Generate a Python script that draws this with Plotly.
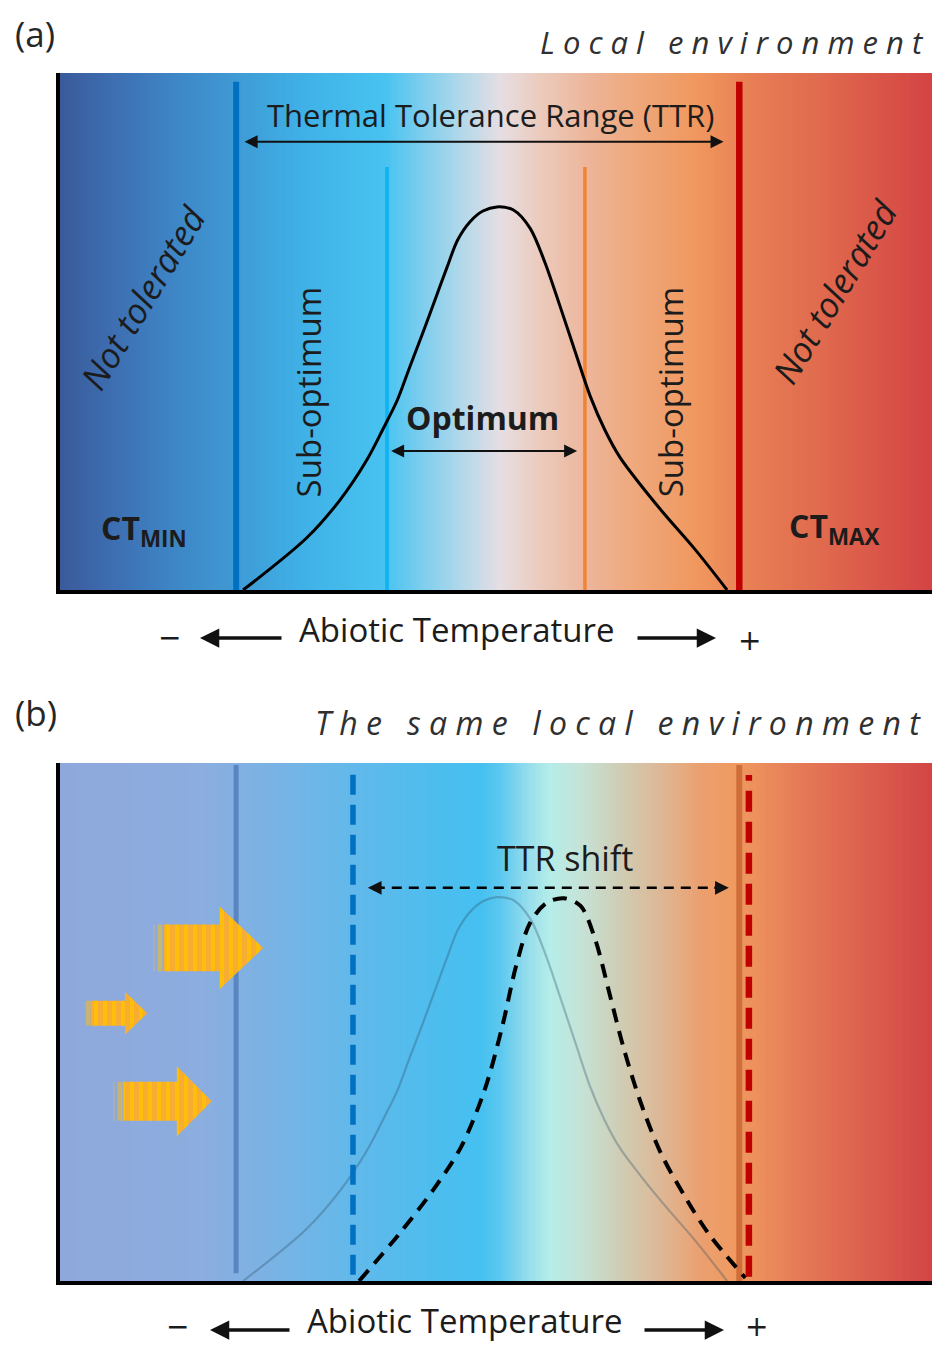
import numpy as np
import plotly.graph_objects as go

W, H = 932, 1345

# ---------------- data (temperature axis 0-100, performance axis 0-100) ----------------
# background gradients: position along temperature axis and colour
grad_a_pos = [0, 6.9, 13.8, 19.5, 27.5, 37.3, 41.3, 45.9, 50.5, 55.0, 60.8, 66.5, 73.4, 79.1, 87.2, 100]
grad_a_col = ['#3A5A9A', '#3D71B4', '#3E88C8', '#3F98D3', '#3FB0E6', '#48C3F0', '#7ACDEE', '#B0D8EA',
              '#E6DEE3', '#EBCBBD', '#EDB498', '#EFA779', '#F0965D', '#E87F55', '#E06A4E', '#D44343']
grad_b_pos = [0, 16.1, 20.6, 27.5, 34.4, 42.4, 48.2, 50.5, 53.9, 56.2, 59.6, 64.2, 68.8, 73.4, 77.4, 84.9, 100]
grad_b_col = ['#8FA8DB', '#8CADDF', '#82B0E2', '#72B5E6', '#60B9EB', '#4EBDEE', '#45C0F0', '#5CC8EF',
              '#9ADFEC', '#B5EDE8', '#C5E3D8', '#CFCDB5', '#DDB896', '#EBA070', '#F09A60', '#E57A57', '#D24545']

# thermal performance curve (current)
tpc_temp = [21.0, 28.3, 32.1, 35.2, 37.0, 38.7, 40.1, 41.6, 43.0, 44.4, 45.6, 47.0, 48.5, 50.1,
            52.0, 53.9, 55.6, 57.3, 59.1, 60.8, 62.5, 64.2, 66.5, 69.4, 72.8, 76.5]
tpc_perf = [0.0, 10.1, 17.4, 25.2, 31.0, 36.8, 43.1, 49.7, 56.1, 62.5, 67.7, 71.2, 73.3, 74.1,
            73.5, 70.0, 63.4, 55.1, 46.0, 37.5, 30.9, 25.7, 20.5, 14.5, 7.9, 0.0]

# shifted thermal performance curve (panel b)
shift_temp = [34.3, 38.9, 42.8, 46.0, 48.7, 50.7, 52.3, 53.9, 55.8, 57.8, 59.7, 61.4, 63.0, 64.6,
              66.5, 68.9, 71.7, 74.4, 78.6]
shift_perf = [0.0, 9.1, 17.6, 25.9, 36.9, 49.0, 60.8, 69.1, 73.0, 73.9, 72.4, 65.8, 55.6, 45.2,
              34.9, 24.7, 16.2, 9.1, 0.6]

# thresholds
ct_min = 20.2
ct_max = 77.9
opt_low = 37.5
opt_high = 60.2
ct_min_new = 33.6
ct_max_new = 79.0

# TTR / optimum / shift arrows (temperature extent, performance level)
ttr_span = [21.0, 76.1]
ttr_level = 86.7
opt_span = [37.8, 59.3]
opt_level = 26.9
shift_span = [35.3, 76.7]
shift_level = 75.9

# warming arrows in panel b: tail, neck, tip (temperature), centre level, half body, half head
warm_tail = [10.7, 2.75, 6.1]
warm_neck = [18.3, 7.45, 13.4]
warm_tip = [23.3, 10.0, 17.4]
warm_mid = [64.3, 51.7, 34.7]
warm_body = [4.5, 2.4, 3.75]
warm_head = [8.0, 4.15, 6.75]

FONT = 'Open Sans'
TXT = '#1c1c1c'

fig = go.Figure()


def gradient(pos, col, xa, ya):
    xs = np.linspace(0, 100, 500)
    cs = [[p / 100.0, c] for p, c in zip(pos, col)]
    fig.add_trace(go.Heatmap(x=xs, y=[0, 100], z=[xs, xs], zmin=0, zmax=100, colorscale=cs,
                             showscale=False, hoverinfo='skip', xaxis=xa, yaxis=ya))


def vline(x, y0, y1, color, width, xa, ya, dash='solid'):
    fig.add_trace(go.Scatter(x=[x, x], y=[y0, y1], mode='lines', xaxis=xa, yaxis=ya,
                             line=dict(color=color, width=width, dash=dash),
                             hoverinfo='skip', showlegend=False))


# ---------------- panel (a) ----------------
gradient(grad_a_pos, grad_a_col, 'x', 'y')
vline(ct_min, 0, 98.3, '#0070C0', 6, 'x', 'y')
vline(ct_max, 0, 98.3, '#C00000', 6.5, 'x', 'y')
vline(opt_low, 0, 81.8, '#0DB3F2', 3.5, 'x', 'y')
vline(opt_high, 0, 81.8, '#F08434', 3.5, 'x', 'y')
fig.add_trace(go.Scatter(x=tpc_temp, y=tpc_perf, mode='lines', line=dict(color='black', width=3, shape='spline', smoothing=0.9),
                         hoverinfo='skip', showlegend=False, xaxis='x', yaxis='y'))

# ---------------- panel (b) ----------------
gradient(grad_b_pos, grad_b_col, 'x2', 'y2')
vline(ct_min, 1.5, 99.6, 'rgba(75,120,180,0.75)', 5, 'x2', 'y2')
vline(ct_max, 0, 99.6, 'rgba(200,100,50,0.8)', 6, 'x2', 'y2')
fig.add_trace(go.Scatter(x=tpc_temp, y=tpc_perf, mode='lines',
                         line=dict(color='rgba(45,80,100,0.33)', width=2.2, shape='spline', smoothing=0.9),
                         hoverinfo='skip', showlegend=False, xaxis='x2', yaxis='y2'))
fig.add_trace(go.Scatter(x=shift_temp, y=shift_perf, mode='lines',
                         line=dict(color='black', width=4, dash='14px,9px', shape='spline', smoothing=0.9),
                         hoverinfo='skip', showlegend=False, xaxis='x2', yaxis='y2'))
vline(ct_min_new, 1.2, 99.6, '#0070C0', 5.5, 'x2', 'y2', dash='20px,10px')
vline(ct_max_new, 0.8, 97.7, '#C00000', 6.5, 'x2', 'y2', dash='21px,10px')
fig.add_trace(go.Scatter(x=[shift_span[0] + 0.8, shift_span[1] - 0.8], y=[shift_level, shift_level], mode='lines',
                         line=dict(color='black', width=2.5, dash='10px,7px'),
                         hoverinfo='skip', showlegend=False, xaxis='x2', yaxis='y2'))

for tl, nk, tp, md, bh, hh in zip(warm_tail, warm_neck, warm_tip, warm_mid, warm_body, warm_head):
    cut = tl + (nk - tl) * 0.16
    # ragged tail: gold stripes over the background
    fig.add_trace(go.Scatter(x=[tl, cut, cut, tl, tl], y=[md + bh, md + bh, md - bh, md - bh, md + bh],
                             mode='lines', fill='toself', line=dict(width=0, color='rgba(0,0,0,0)'),
                             fillpattern=dict(shape='|', fgcolor='#FFBE0A', bgcolor='rgba(0,0,0,0)', size=8, solidity=0.6),
                             hoverinfo='skip', showlegend=False, xaxis='x2', yaxis='y2'))
    xs = [cut, nk, nk, tp, nk, nk, cut, cut]
    ys = [md + bh, md + bh, md + hh, md, md - hh, md - bh, md - bh, md + bh]
    fig.add_trace(go.Scatter(x=xs, y=ys, mode='lines', fill='toself', line=dict(width=0, color='rgba(0,0,0,0)'),
                             fillpattern=dict(shape='|', fgcolor='#EF9C5C', bgcolor='#FFBE0A', size=9, solidity=0.55),
                             hoverinfo='skip', showlegend=False, xaxis='x2', yaxis='y2'))

# ---------------- axes ----------------
ya_dom = [1 - 590 / H, 1 - 73 / H]
yb_dom = [1 - 1281 / H, 1 - 763 / H]
xdom = [60 / W, 1.0]
base = dict(showgrid=False, zeroline=False, showticklabels=False, ticks='', range=[0, 100],
            fixedrange=True, showline=True, linewidth=4, linecolor='black', mirror=False)
fig.update_layout(
    xaxis=dict(base, domain=xdom, anchor='y'),
    yaxis=dict(base, domain=ya_dom, anchor='x'),
    xaxis2=dict(base, domain=xdom, anchor='y2'),
    yaxis2=dict(base, domain=yb_dom, anchor='x2'),
)

ann = []


def text(t, x, y, size, xref='x', yref='y', angle=0, color=TXT, xanchor='center', yanchor='middle', family=FONT):
    ann.append(dict(text=t, x=x, y=y, xref=xref, yref=yref, showarrow=False, textangle=angle,
                    font=dict(family=family, size=size, color=color), xanchor=xanchor, yanchor=yanchor))


def spaced(s):
    return '\u00a0'.join(ch if ch != ' ' else '\u00a0' for ch in s)


# panel labels and titles
text('(a)', 35 / W, 1 - 33 / H, 35, 'paper', 'paper', color='#262626')
text('(b)', 36 / W, 1 - 712 / H, 35, 'paper', 'paper', color='#262626')
text('<i>' + spaced('Local environment') + '</i>', 926 / W, 1 - 42 / H, 31, 'paper', 'paper', color='#303030', xanchor='right')
text('<i>' + spaced('The same local environment') + '</i>', 923 / W, 1 - 722 / H, 32, 'paper', 'paper', color='#303030', xanchor='right')

# panel (a) texts
text('Thermal Tolerance Range (TTR)', 49.4, 91.9, 31)
text('<i>Not tolerated</i>', 9.5, 56.5, 35, angle=-59)
text('<i>Not tolerated</i>', 88.8, 57.8, 35, angle=-59)
text('Sub-optimum', 28.6, 38.3, 33, angle=-90)
text('Sub-optimum', 70.1, 38.3, 33, angle=-90)
text('<b>Optimum</b>', 48.4, 33.3, 32)
text('<b>CT<sub>MIN</sub></b>', 9.6, 11.6, 32)
text('<b>CT<sub>MAX</sub></b>', 88.8, 12.0, 32)

# panel (b) texts
ann.append(dict(text='TTR shift', x=57.9, y=81.7, xref='x2', yref='y2', showarrow=False,
                font=dict(family=FONT, size=34, color=TXT)))

# arrows in plots
ann.append(dict(x=ttr_span[1], y=ttr_level, ax=ttr_span[0], ay=ttr_level, xref='x', yref='y', axref='x', ayref='y',
                text='', showarrow=True, arrowhead=2, startarrowhead=2, arrowside='end+start', arrowwidth=2,
                arrowsize=1.3, startarrowsize=1.3, arrowcolor='#111'))
ann.append(dict(x=opt_span[1], y=opt_level, ax=opt_span[0], ay=opt_level, xref='x', yref='y', axref='x', ayref='y',
                text='', showarrow=True, arrowhead=2, startarrowhead=2, arrowside='end+start', arrowwidth=2,
                arrowsize=1.3, startarrowsize=1.3, arrowcolor='#111'))
ann.append(dict(x=shift_span[1], y=shift_level, ax=-16, ay=0, xref='x2', yref='y2', axref='pixel', ayref='pixel',
                text='', showarrow=True, arrowhead=2, arrowwidth=2.5, arrowsize=1.1, arrowcolor='#111'))
ann.append(dict(x=shift_span[0], y=shift_level, ax=16, ay=0, xref='x2', yref='y2', axref='pixel', ayref='pixel',
                text='', showarrow=True, arrowhead=2, arrowwidth=2.5, arrowsize=1.1, arrowcolor='#111'))

# axis captions (panel a: centred; panel b: kept inside the page bottom)
text('Abiotic Temperature', 457 / W, 1 - 630 / H, 33, 'paper', 'paper')
text('\u2212', 169 / W, 1 - 638 / H, 28, 'paper', 'paper', family='DejaVu Sans')
text('+', 749 / W, 1 - 640 / H, 28, 'paper', 'paper', family='DejaVu Sans')
text('Abiotic Temperature', 465 / W, 0.0, 33, 'paper', 'paper', yanchor='bottom')
text('\u2212', 177 / W, 0.0, 28, 'paper', 'paper', yanchor='bottom', family='DejaVu Sans')
text('+', 756 / W, 0.0, 28, 'paper', 'paper', yanchor='bottom', family='DejaVu Sans')

for ly, lt, rt in [(638, (283, 200), (636, 716)), (1330, (291, 210), (643, 724))]:
    ann.append(dict(x=lt[1] / W, y=1 - ly / H, xref='paper', yref='paper', ax=lt[0] - lt[1], ay=0,
                    axref='pixel', ayref='pixel', text='', showarrow=True, arrowhead=2, arrowwidth=3.5,
                    arrowsize=1.1, arrowcolor='#111'))
    ann.append(dict(x=rt[1] / W, y=1 - ly / H, xref='paper', yref='paper', ax=rt[0] - rt[1], ay=0,
                    axref='pixel', ayref='pixel', text='', showarrow=True, arrowhead=2, arrowwidth=3.5,
                    arrowsize=1.1, arrowcolor='#111'))

fig.update_layout(width=W, height=H, margin=dict(l=0, r=0, t=0, b=0), paper_bgcolor='white',
                  plot_bgcolor='white', annotations=ann, showlegend=False)

fig.write_html('out.html', config={'displayModeBar': False})
